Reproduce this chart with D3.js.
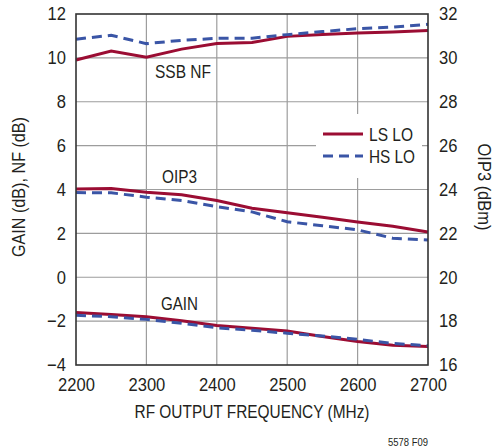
<!DOCTYPE html>
<html><head><meta charset="utf-8">
<script src="https://cdn.jsdelivr.net/npm/d3@7"></script>
<style>
html,body{margin:0;padding:0;background:#fff;}
svg{display:block;}
text{font-family:"Liberation Sans",Arial,sans-serif;fill:#231f20;}
</style></head>
<body>
<svg id="c" width="495" height="448"></svg>
<script>
const freq = [2200,2250,2300,2350,2400,2450,2500,2550,2600,2650,2700];
const nfLS = [9.9,10.31,10.03,10.4,10.65,10.7,10.98,11.06,11.13,11.18,11.25];
const nfHS = [10.85,11.03,10.65,10.8,10.89,10.9,11.06,11.2,11.33,11.4,11.53];
const oip3LS = [24.02,24.04,23.87,23.76,23.5,23.15,22.94,22.73,22.52,22.32,22.06];
const oip3HS = [23.86,23.85,23.65,23.5,23.22,22.98,22.53,22.35,22.16,21.78,21.7];
const gainLS = [-1.61,-1.7,-1.8,-1.98,-2.2,-2.33,-2.45,-2.7,-2.93,-3.1,-3.16];
const gainHS = [-1.73,-1.8,-1.92,-2.1,-2.3,-2.42,-2.55,-2.68,-2.83,-3.02,-3.12];
const xTicks = [2200,2300,2400,2500,2600,2700];
const yLeftTicks = [-4,-2,0,2,4,6,8,10,12];
const yRightTicks = [16,18,20,22,24,26,28,30,32];
const seriesNames = ["LS LO","HS LO"];
const curveLabels = ["SSB NF","OIP3","GAIN"];

const RED = "#9b0d33", BLUE = "#3a55a6";
const L = 76, R = 428, T = 14, B = 365;
const fs = 18;
const svg = d3.select("#c");
const x = d3.scaleLinear().domain([2200,2700]).range([L,R]);
const yL = d3.scaleLinear().domain([-4,12]).range([B,T]);
const yR = d3.scaleLinear().domain([16,32]).range([B,T]);

function squeeze(sel, factor){
  sel.each(function(){
    const w = this.getComputedTextLength();
    d3.select(this).attr("textLength", w*factor).attr("lengthAdjust","spacingAndGlyphs");
  });
}
function fit(sel, width){
  sel.attr("textLength", width).attr("lengthAdjust","spacingAndGlyphs");
}

// grid
const g = svg.append("g");
g.selectAll(".vg").data(xTicks.slice(1,-1)).enter().append("line")
  .attr("x1",d=>x(d)).attr("x2",d=>x(d)).attr("y1",T).attr("y2",B)
  .attr("stroke","#9d9d9d").attr("stroke-width",1.2);
g.selectAll(".hg").data(yLeftTicks.slice(1,-1)).enter().append("line")
  .attr("x1",L).attr("x2",R).attr("y1",d=>yL(d)).attr("y2",d=>yL(d))
  .attr("stroke","#9d9d9d").attr("stroke-width",1.2);

// axes (tick labels)
const axB = d3.axisBottom(x).tickValues(xTicks).tickSize(0).tickPadding(13).tickFormat(d3.format("d"));
const gb = svg.append("g").attr("transform",`translate(0,${B})`).call(axB);
const axLf = d3.axisLeft(yL).tickValues(yLeftTicks).tickSize(0).tickPadding(10).tickFormat(d=>d<0?"\u2212"+Math.abs(d):d);
const gl = svg.append("g").attr("transform",`translate(${L},0)`).call(axLf);
const axRt = d3.axisRight(yR).tickValues(yRightTicks).tickSize(0).tickPadding(11);
const gr = svg.append("g").attr("transform",`translate(${R},0)`).call(axRt);
[gb,gl,gr].forEach(a=>{
  a.select(".domain").remove();
  const t = a.selectAll("text").attr("font-size",fs).attr("font-family",null).style("fill","#231f20");
  squeeze(t, 0.92);
});

// lines
const line = (ys, yScale) => d3.line().x((d,i)=>x(freq[i])).y(d=>yScale(d))(ys);
const lines = [
  [nfLS,yL,RED,null],[oip3LS,yR,RED,null],[gainLS,yL,RED,null],
  [nfHS,yL,BLUE,"10,6"],[oip3HS,yR,BLUE,"10,6"],[gainHS,yL,BLUE,"10,6"]
];
lines.forEach(([ys,sc,col,dash])=>{
  svg.append("path").attr("d",line(ys,sc)).attr("fill","none")
    .attr("stroke",col).attr("stroke-width",3).attr("stroke-dasharray",dash);
});

// legend
svg.append("rect").attr("x",316).attr("y",114).attr("width",106).attr("height",64).attr("fill","#fff");
const leg = [[RED,null,134,44],[BLUE,"10,6",156,46]];
leg.forEach(([col,dash,yy,w],i)=>{
  svg.append("line").attr("x1",323).attr("x2",363).attr("y1",yy).attr("y2",yy)
    .attr("stroke",col).attr("stroke-width",3).attr("stroke-dasharray",dash);
  fit(svg.append("text").attr("x",369).attr("y",yy+7).attr("font-size",fs).text(seriesNames[i]), w);
});

// frame
svg.append("rect").attr("x",L).attr("y",T).attr("width",R-L).attr("height",B-T)
  .attr("fill","none").attr("stroke","#333").attr("stroke-width",1.6);

// curve labels
fit(svg.append("text").attr("x",155).attr("y",78).attr("font-size",fs).text(curveLabels[0]), 56);
fit(svg.append("text").attr("x",162).attr("y",183).attr("font-size",fs).text(curveLabels[1]), 35);
fit(svg.append("text").attr("x",161).attr("y",310).attr("font-size",fs).text(curveLabels[2]), 37);

// axis titles
fit(svg.append("text").attr("transform","translate(25,187) rotate(-90)").attr("text-anchor","middle")
  .attr("font-size",fs).text("GAIN (dB), NF (dB)"), 140);
fit(svg.append("text").attr("transform","translate(478,187) rotate(90)").attr("text-anchor","middle")
  .attr("font-size",fs).text("OIP3 (dBm)"), 87);
fit(svg.append("text").attr("x",252).attr("y",418).attr("text-anchor","middle")
  .attr("font-size",fs).text("RF OUTPUT FREQUENCY (MHz)"), 235);
fit(svg.append("text").attr("x",428).attr("y",446).attr("text-anchor","end")
  .attr("font-size",11).text("5578 F09"), 40);
</script>
</body></html>
